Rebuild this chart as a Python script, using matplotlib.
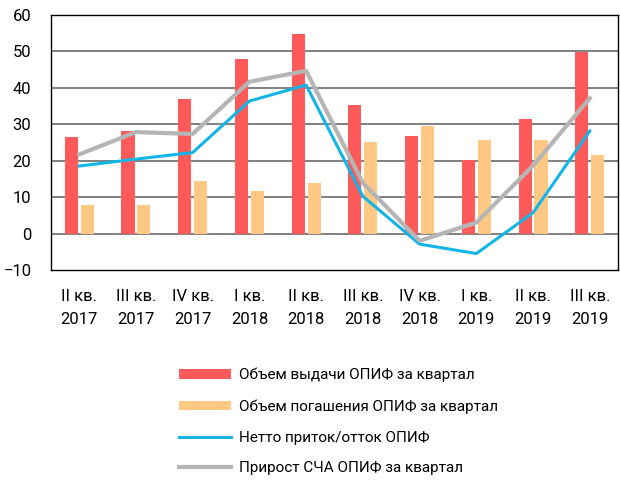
import matplotlib.pyplot as plt
import numpy as np
from matplotlib.patches import Patch
from matplotlib.lines import Line2D

plt.rcParams['font.family'] = ['Roboto', 'DejaVu Sans']

# --- Data ---
quarters = ['II кв.\n2017', 'III кв.\n2017', 'IV кв.\n2017', 'I кв.\n2018', 'II кв.\n2018',
            'III кв.\n2018', 'IV кв.\n2018', 'I кв.\n2019', 'II кв.\n2019', 'III кв.\n2019']
issue = [26.4, 28.1, 36.8, 47.9, 54.6, 35.3, 26.8, 20.1, 31.4, 49.7]
redeem = [7.9, 7.7, 14.4, 11.6, 13.8, 25.2, 29.5, 25.7, 25.6, 21.6]
net_flow = [18.5, 20.4, 22.2, 36.3, 40.7, 10.2, -2.9, -5.5, 5.7, 28.1]
nav_growth = [21.7, 27.8, 27.3, 41.6, 44.6, 13.9, -2.0, 3.0, 18.6, 37.1]

labels = ['Объем выдачи ОПИФ за квартал', 'Объем погашения ОПИФ за квартал',
          'Нетто приток/отток ОПИФ', 'Прирост СЧА ОПИФ за квартал']

c_red = '#FF5A5A'
c_orange = '#FFC985'
c_blue = '#12B5E5'
c_gray = '#B5B5B5'

fig = plt.figure(figsize=(6.2, 4.8), dpi=100)
ax = fig.add_axes([0.082, 0.4375, 0.915, 0.532])

x = np.arange(len(quarters))
w = 0.23
ax.bar(x - 0.14, issue, width=w, color=c_red, zorder=3)
ax.bar(x + 0.14, redeem, width=w, color=c_orange, zorder=3)
ax.plot(x, net_flow, color=c_blue, lw=2.2, zorder=4)
ax.plot(x, nav_growth, color=c_gray, lw=3, zorder=4)

ax.set_xlim(-0.5, len(quarters) - 0.5)
ax.set_ylim(-10, 60)
ax.set_yticks(range(-10, 61, 10))
ax.set_xticks(x)
ax.set_xticklabels(quarters, fontsize=12, linespacing=1.6)
ax.tick_params(axis='both', length=0, labelsize=12)
ax.tick_params(axis='x', pad=14)
ax.tick_params(axis='y', pad=14)

for v in range(0, 60, 10):
    ax.axhline(v, color='#808080', lw=1.4, zorder=1)

for s in ax.spines.values():
    s.set_color('black')
    s.set_linewidth(1)

handles = [
    Patch(facecolor=c_red, edgecolor='none'),
    Patch(facecolor=c_orange, edgecolor='none'),
    Line2D([0], [0], color=c_blue, lw=2.2),
    Line2D([0], [0], color=c_gray, lw=3),
]
fig.legend(handles, labels, loc='upper left', bbox_to_anchor=(0.267, 0.262),
           frameon=False, fontsize=11, handlelength=3.4, handleheight=0.55,
           handletextpad=0.5, labelspacing=1.1)

fig.savefig('out.png', dpi=100)
